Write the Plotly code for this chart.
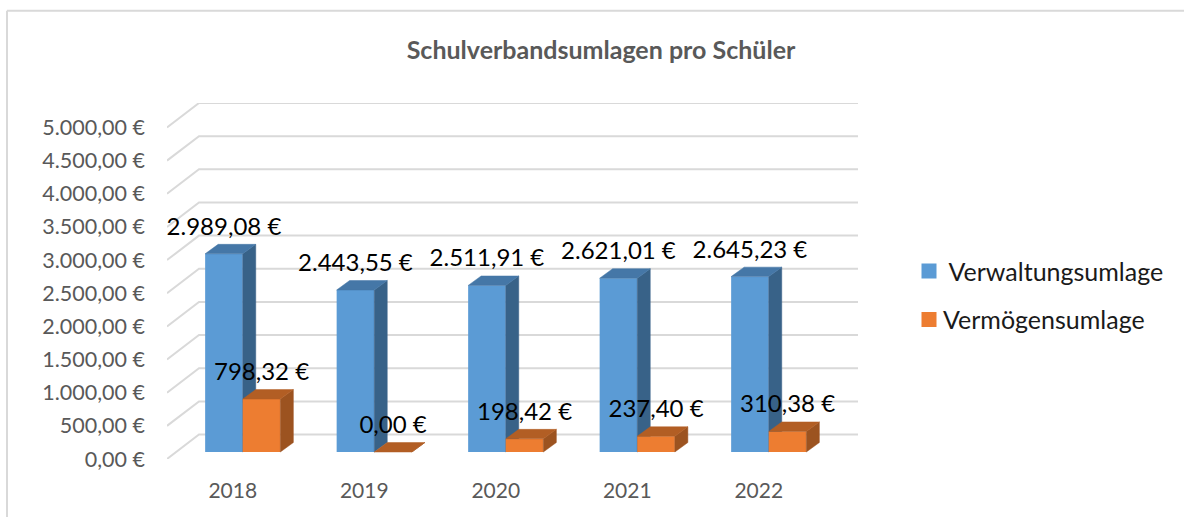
import plotly.graph_objects as go

# ---------- data ----------
years = ["2018", "2019", "2020", "2021", "2022"]
verwaltung = [2989.08, 2443.55, 2511.91, 2621.01, 2645.23]
vermoegen = [798.32, 0.00, 198.42, 237.40, 310.38]
verwaltung_labels = ["2.989,08 €", "2.443,55 €", "2.511,91 €", "2.621,01 €", "2.645,23 €"]
vermoegen_labels = ["798,32 €", "0,00 €", "198,42 €", "237,40 €", "310,38 €"]
y_ticks = [0, 500, 1000, 1500, 2000, 2500, 3000, 3500, 4000, 4500, 5000]
y_tick_labels = ["0,00 €", "500,00 €", "1.000,00 €", "1.500,00 €", "2.000,00 €", "2.500,00 €",
                 "3.000,00 €", "3.500,00 €", "4.000,00 €", "4.500,00 €", "5.000,00 €"]

# ---------- pseudo-3D geometry (axis units) ----------
W, H = 1184, 517
PX_L, PX_R, PX_T, PX_B = 167, 858, 102.5, 459
X_UNIT = 131.5            # px per category
Y_UNIT = 332 / 5000       # px per euro
X_RANGE = [-0.5, -0.5 + (PX_R - PX_L) / X_UNIT]
Y_RANGE = [0, (PX_B - PX_T) / Y_UNIT]
WALL_DX, WALL_DY = 32 / X_UNIT, 24.5 / Y_UNIT
BAR_W = 37.6 / X_UNIT
SHIFT_X, SHIFT_Y = 10 / X_UNIT, 7 / Y_UNIT
BAR_DX, BAR_DY = 13 / X_UNIT, 9.5 / Y_UNIT
LABEL_DY = 25 / Y_UNIT

GRID = "#D9D9D9"
FONT = "Lato"


def faces(values, left_offset):
    """Side and top polygons of each bar, derived from the values."""
    sx, sy, tx, ty = [], [], [], []
    for i, v in enumerate(values):
        x0 = i + SHIFT_X + left_offset
        x1 = x0 + BAR_W
        b, t = SHIFT_Y, SHIFT_Y + v
        sx += [x1, x1 + BAR_DX, x1 + BAR_DX, x1, x1, None]
        sy += [b, b + BAR_DY, t + BAR_DY, t, b, None]
        tx += [x0, x1, x1 + BAR_DX, x0 + BAR_DX, x0, None]
        ty += [t, t, t + BAR_DY, t + BAR_DY, t, None]
    return sx, sy, tx, ty


def poly(x, y, color, xa, ya):
    return go.Scatter(x=x, y=y, mode="lines", fill="toself", fillcolor=color,
                      line=dict(color=color, width=0.5), xaxis=xa, yaxis=ya,
                      showlegend=False, hoverinfo="skip")


fig = go.Figure()

# Verwaltungsumlage
idx = list(range(len(years)))
sx, sy, tx, ty = faces(verwaltung, -BAR_W)
fig.add_trace(poly(sx, sy, "#386288", "x", "y"))
fig.add_trace(poly(tx, ty, "#4577A7", "x", "y"))
fig.add_trace(go.Bar(x=[i + SHIFT_X - BAR_W for i in idx], y=verwaltung, base=SHIFT_Y, width=BAR_W,
                     offset=0, marker=dict(color="#5B9BD5", line=dict(width=0)),
                     showlegend=False, hoverinfo="skip"))

# Vermögensumlage (overlay axes keep it in front)
sx, sy, tx, ty = faces(vermoegen, 0)
fig.add_trace(go.Bar(x=[i + SHIFT_X for i in idx], y=vermoegen, base=SHIFT_Y, width=BAR_W,
                     offset=0, marker=dict(color="#ED7D31", line=dict(width=0)),
                     showlegend=False, hoverinfo="skip", xaxis="x2", yaxis="y2"))
fig.add_trace(poly(sx, sy, "#9C5320", "x2", "y2"))
fig.add_trace(poly(tx, ty, "#B25E24", "x2", "y2"))

# data labels
fig.add_trace(go.Scatter(x=[i + SHIFT_X - BAR_W / 2 for i in idx],
                         y=[v + SHIFT_Y + LABEL_DY for v in verwaltung],
                         text=verwaltung_labels, mode="text", textposition="middle center",
                         textfont=dict(family=FONT, size=24, color="#000000"),
                         xaxis="x2", yaxis="y2", showlegend=False, hoverinfo="skip", cliponaxis=False))
fig.add_trace(go.Scatter(x=[i + SHIFT_X + BAR_W / 2 for i in idx],
                         y=[v + SHIFT_Y + LABEL_DY for v in vermoegen],
                         text=vermoegen_labels, mode="text", textposition="middle center",
                         textfont=dict(family=FONT, size=24, color="#000000"),
                         xaxis="x2", yaxis="y2", showlegend=False, hoverinfo="skip", cliponaxis=False))

# legend entries
fig.add_trace(go.Scatter(x=[None], y=[None], mode="markers", name="\u00a0Verwaltungsumlage",
                         legendgroup="a",
                         marker=dict(symbol="square", size=15, color="#5B9BD5", angle=90, standoff=6)))
fig.add_trace(go.Scatter(x=[None], y=[None], mode="markers", name="Vermögensumlage",
                         legendgroup="b",
                         marker=dict(symbol="square", size=15, color="#ED7D31", angle=90, standoff=6)))

px_w, px_h = PX_R - PX_L, PX_B - PX_T


def pap_x(px):
    return (px - PX_L) / px_w


def pap_y(py):
    return (PX_B - py) / px_h


# walls drawn below every mark
wall_shapes = []
for v in y_ticks:
    path = (f"M {X_RANGE[0]} {v} L {X_RANGE[0] + WALL_DX} {v + WALL_DY} "
            f"L {X_RANGE[1]} {v + WALL_DY}")
    wall_shapes.append(dict(type="path", path=path, xref="x", yref="y", layer="below",
                            line=dict(color=GRID, width=2)))

border = dict(color=GRID, width=2)
fig.update_layout(
    width=W, height=H, autosize=False,
    margin=dict(l=PX_L, r=W - PX_R, t=PX_T, b=H - PX_B, pad=0),
    paper_bgcolor="white", plot_bgcolor="white",
    barmode="overlay",
    font=dict(family=FONT, color="#595959"),
    title=dict(text="<b>Schulverbandsumlagen pro Schüler</b>",
               font=dict(family=FONT, size=25, color="#595959"),
               x=601 / W, xanchor="center", y=1 - 50 / H, yanchor="middle"),
    xaxis=dict(range=X_RANGE, tickmode="array", tickvals=idx, ticktext=years,
               showgrid=False, zeroline=False, showline=False, ticks="",
               ticklabelstandoff=17, tickfont=dict(family=FONT, size=21, color="#595959")),
    yaxis=dict(range=Y_RANGE, tickmode="array", tickvals=y_ticks, ticktext=y_tick_labels,
               showgrid=False, zeroline=False, showline=False, ticks="",
               ticklabelstandoff=21, tickfont=dict(family=FONT, size=21.5, color="#595959")),
    xaxis2=dict(range=X_RANGE, overlaying="x", visible=False),
    yaxis2=dict(range=Y_RANGE, overlaying="y", visible=False),
    legend=dict(xref="container", x=910 / W, y=pap_y(248), xanchor="left", yanchor="top",
                font=dict(family=FONT, size=25, color="#1a1a1a"), indentation=-7,
                tracegroupgap=13, traceorder="grouped", bgcolor="rgba(0,0,0,0)"),
    shapes=wall_shapes + [
        dict(type="line", xref="paper", yref="paper", x0=pap_x(7), x1=pap_x(W), y0=pap_y(10), y1=pap_y(10), line=border),
        dict(type="line", xref="paper", yref="paper", x0=pap_x(7), x1=pap_x(7), y0=pap_y(10), y1=pap_y(H), line=border),
    ],
)

fig.write_html("out.html", config={"displayModeBar": False},
               post_script="document.body.style.margin='0';")
